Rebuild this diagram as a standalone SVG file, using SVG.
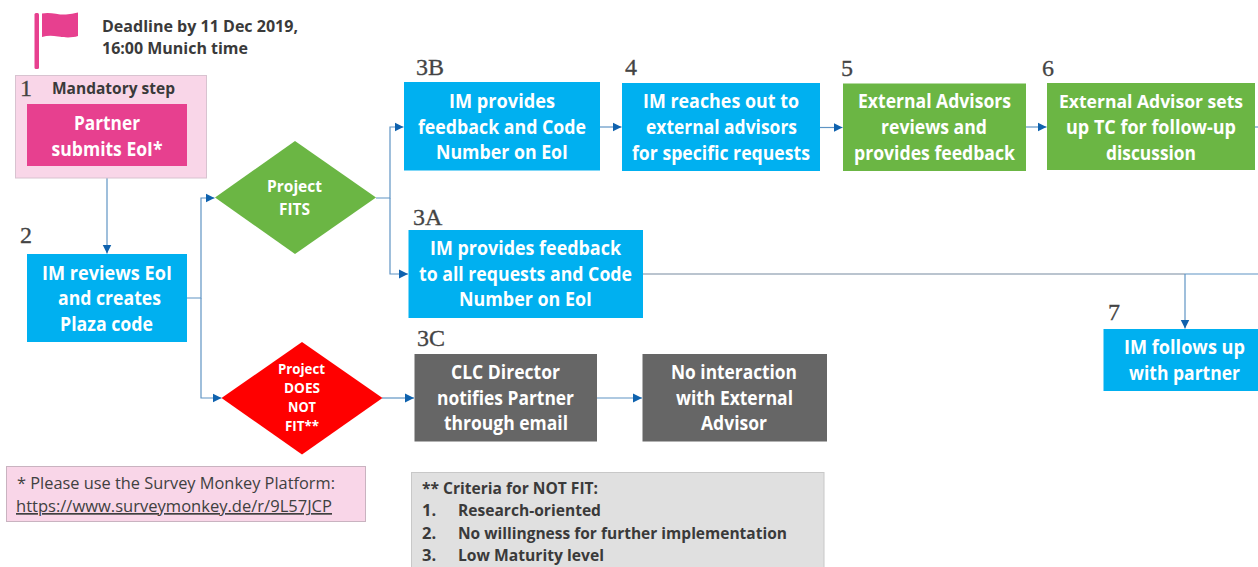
<svg xmlns="http://www.w3.org/2000/svg" width="1258" height="567" viewBox="0 0 1258 567">
<style>
text{font-family:"Open Sans","Noto Sans","Liberation Sans",sans-serif;}
.w{fill:#fff;font-size:20px;font-weight:700;text-anchor:middle;}
.d{fill:#fff;font-size:16px;font-weight:700;text-anchor:middle;}
.s{fill:#fff;font-size:14.500px;font-weight:700;text-anchor:middle;}
.k{fill:#3a3a3a;font-size:16.500px;font-weight:700;}
.n{fill:#404040;font-size:17px;}
.num{font-family:"Liberation Serif","DejaVu Serif",serif;fill:#444;font-size:24px;stroke:#444;stroke-width:.3;}
.b{fill:#00B0F0;}.g{fill:#6BB644;}.y{fill:#666;}
.c{fill:none;stroke:#5f94c4;stroke-width:1.2;}
</style>
<defs>
<marker id="a" markerUnits="userSpaceOnUse" markerWidth="10" markerHeight="10" refX="9" refY="5" orient="auto"><path d="M0 .5L9 5L0 9.500z" fill="#0f62ae"/></marker>
</defs>
<g id="deadline">
<rect x="34.500" y="13" width="4.500" height="56" rx="1.500" fill="#E7408F"/>
<path d="M42 13.500C50 11.500 58 15 66 14.500C70 14.200 74 13.500 78 12.500V36C72 38 64 37.500 58 36.500C52 35.500 47 35.500 42 37z" fill="#E7408F"/>
<text class="k" x="102" y="32" textLength="196" lengthAdjust="spacingAndGlyphs">Deadline by 11 Dec 2019,</text>
<text class="k" x="102" y="54" textLength="146" lengthAdjust="spacingAndGlyphs">16:00 Munich time</text>
</g>
<g id="connectors">
<path class="c" d="M107 166V253.500" marker-end="url(#a)"/>
<path class="c" d="M187 298H201V198H214.500" marker-end="url(#a)"/>
<path class="c" d="M201 298V398H221.500" marker-end="url(#a)"/>
<path class="c" d="M376 198H390V127H403.500" marker-end="url(#a)"/>
<path class="c" d="M390 198V274H408" marker-end="url(#a)"/>
<path class="c" d="M600 127H621.500" marker-end="url(#a)"/>
<path class="c" d="M820 127.500H842.500" marker-end="url(#a)"/>
<path class="c" d="M1026 127H1046.500" marker-end="url(#a)"/>
<path class="c" d="M1255 127H1258"/>
<path fill="none" stroke="#a3b1bf" stroke-width="1.500" d="M643 274H1185"/>
<path class="c" d="M1185 274H1258"/>
<path class="c" d="M1185 274V328.500" marker-end="url(#a)"/>
<path class="c" d="M382 398H414" marker-end="url(#a)"/>
<path class="c" d="M597 398H642" marker-end="url(#a)"/>
</g>
<g id="step1">
<rect x="15.500" y="75.500" width="191" height="102.500" fill="#F9D6E8" stroke="#d8c3d0"/>
<text class="num" x="20" y="96">1</text>
<text class="k" x="52" y="94" textLength="123" lengthAdjust="spacingAndGlyphs">Mandatory step</text>
<rect x="27" y="104" width="160" height="62" fill="#E7408F"/>
<text class="w" x="107" y="130" textLength="66" lengthAdjust="spacingAndGlyphs">Partner</text>
<text class="w" x="107" y="156" textLength="111" lengthAdjust="spacingAndGlyphs">submits EoI*</text>
</g>
<g id="step2">
<text class="num" x="20" y="243">2</text>
<rect class="b" x="27" y="254" width="160" height="88"/>
<text class="w" x="107" y="280" textLength="130" lengthAdjust="spacingAndGlyphs">IM reviews EoI</text>
<text class="w" x="109.500" y="305" textLength="103" lengthAdjust="spacingAndGlyphs">and creates</text>
<text class="w" x="106.500" y="331" textLength="93" lengthAdjust="spacingAndGlyphs">Plaza code</text>
</g>
<g id="fits">
<path class="g" d="M215 197.500L295 141L376 197.500L295 254z"/>
<text class="d" x="294.500" y="192" textLength="55" lengthAdjust="spacingAndGlyphs">Project</text>
<text class="d" x="294.500" y="215" textLength="31" lengthAdjust="spacingAndGlyphs">FITS</text>
</g>
<g id="notfit">
<path fill="#f00" d="M221.500 398L302 342L382.500 398L302 454.500z"/>
<text class="s" x="301.500" y="374" textLength="47" lengthAdjust="spacingAndGlyphs">Project</text>
<text class="s" x="302" y="393" textLength="36" lengthAdjust="spacingAndGlyphs">DOES</text>
<text class="s" x="302" y="412" textLength="28" lengthAdjust="spacingAndGlyphs">NOT</text>
<text class="s" x="302" y="431" textLength="34" lengthAdjust="spacingAndGlyphs">FIT**</text>
</g>
<g id="step3b">
<text class="num" x="416" y="75">3B</text>
<rect class="b" x="404" y="82" width="196" height="88.500"/>
<text class="w" x="502" y="108" textLength="106" lengthAdjust="spacingAndGlyphs">IM provides</text>
<text class="w" x="502" y="134" textLength="168" lengthAdjust="spacingAndGlyphs">feedback and Code</text>
<text class="w" x="502" y="159" textLength="132" lengthAdjust="spacingAndGlyphs">Number on EoI</text>
</g>
<g id="step4">
<text class="num" x="625" y="75">4</text>
<rect class="b" x="622" y="83" width="198" height="88"/>
<text class="w" x="721" y="108" textLength="156" lengthAdjust="spacingAndGlyphs">IM reaches out to</text>
<text class="w" x="721.500" y="134" textLength="151" lengthAdjust="spacingAndGlyphs">external advisors</text>
<text class="w" x="721" y="160" textLength="178" lengthAdjust="spacingAndGlyphs">for specific requests</text>
</g>
<g id="step5">
<text class="num" x="841" y="76">5</text>
<rect class="g" x="843" y="83.500" width="183" height="87.500"/>
<text class="w" x="934.500" y="108" textLength="153" lengthAdjust="spacingAndGlyphs">External Advisors</text>
<text class="w" x="934" y="134" textLength="106" lengthAdjust="spacingAndGlyphs">reviews and</text>
<text class="w" x="934.500" y="160" textLength="161" lengthAdjust="spacingAndGlyphs">provides feedback</text>
</g>
<g id="step6">
<text class="num" x="1042" y="76">6</text>
<rect class="g" x="1047" y="83" width="208" height="87"/>
<text class="w" x="1151" y="108" style="font-size:18px" textLength="184" lengthAdjust="spacingAndGlyphs">External Advisor sets</text>
<text class="w" x="1151" y="134" textLength="170" lengthAdjust="spacingAndGlyphs">up TC for follow-up</text>
<text class="w" x="1151" y="160" textLength="90" lengthAdjust="spacingAndGlyphs">discussion</text>
</g>
<g id="step3a">
<text class="num" x="413" y="225">3A</text>
<rect class="b" x="408.500" y="230" width="234.500" height="88"/>
<text class="w" x="525.500" y="255" textLength="191" lengthAdjust="spacingAndGlyphs">IM provides feedback</text>
<text class="w" x="525.500" y="281" textLength="213" lengthAdjust="spacingAndGlyphs">to all requests and Code</text>
<text class="w" x="525.500" y="306" textLength="133" lengthAdjust="spacingAndGlyphs">Number on EoI</text>
</g>
<g id="step7">
<text class="num" x="1108" y="320">7</text>
<rect class="b" x="1103.500" y="329" width="154.500" height="62"/>
<text class="w" x="1184.500" y="354" textLength="121" lengthAdjust="spacingAndGlyphs">IM follows up</text>
<text class="w" x="1184.500" y="380" textLength="111" lengthAdjust="spacingAndGlyphs">with partner</text>
</g>
<g id="step3c">
<text class="num" x="417" y="346">3C</text>
<rect class="y" x="414.500" y="354" width="182.500" height="87.500"/>
<text class="w" x="505.500" y="379" textLength="109" lengthAdjust="spacingAndGlyphs">CLC Director</text>
<text class="w" x="505.500" y="405" textLength="137" lengthAdjust="spacingAndGlyphs">notifies Partner</text>
<text class="w" x="506" y="430" textLength="124" lengthAdjust="spacingAndGlyphs">through email</text>
</g>
<g id="nointeraction">
<rect class="y" x="642.500" y="354" width="184.500" height="87.500"/>
<text class="w" x="734" y="379" textLength="126" lengthAdjust="spacingAndGlyphs">No interaction</text>
<text class="w" x="734.500" y="405" textLength="117" lengthAdjust="spacingAndGlyphs">with External</text>
<text class="w" x="734" y="430" textLength="66" lengthAdjust="spacingAndGlyphs">Advisor</text>
</g>
<g id="note">
<rect x="6.500" y="466.500" width="359" height="55" fill="#F9D6E8" stroke="#c9b3c0"/>
<text class="n" x="17" y="489" textLength="318" lengthAdjust="spacingAndGlyphs">* Please use the Survey Monkey Platform:</text>
<text class="n" x="16" y="512" textLength="316" lengthAdjust="spacingAndGlyphs" text-decoration="underline">https://www.surveymonkey.de/r/9L57JCP</text>
</g>
<g id="criteria">
<rect x="411.500" y="472.500" width="412.500" height="100" fill="#E0E0E0" stroke="#c8c8c8"/>
<text class="k" x="422" y="494" textLength="176" lengthAdjust="spacingAndGlyphs">** Criteria for NOT FIT:</text>
<text class="k" x="422" y="516">1.</text>
<text class="k" x="458" y="516" textLength="143" lengthAdjust="spacingAndGlyphs">Research-oriented</text>
<text class="k" x="422" y="539">2.</text>
<text class="k" x="458" y="539" textLength="329" lengthAdjust="spacingAndGlyphs">No willingness for further implementation</text>
<text class="k" x="422" y="561">3.</text>
<text class="k" x="458" y="561" textLength="146" lengthAdjust="spacingAndGlyphs">Low Maturity level</text>
</g>
</svg>
